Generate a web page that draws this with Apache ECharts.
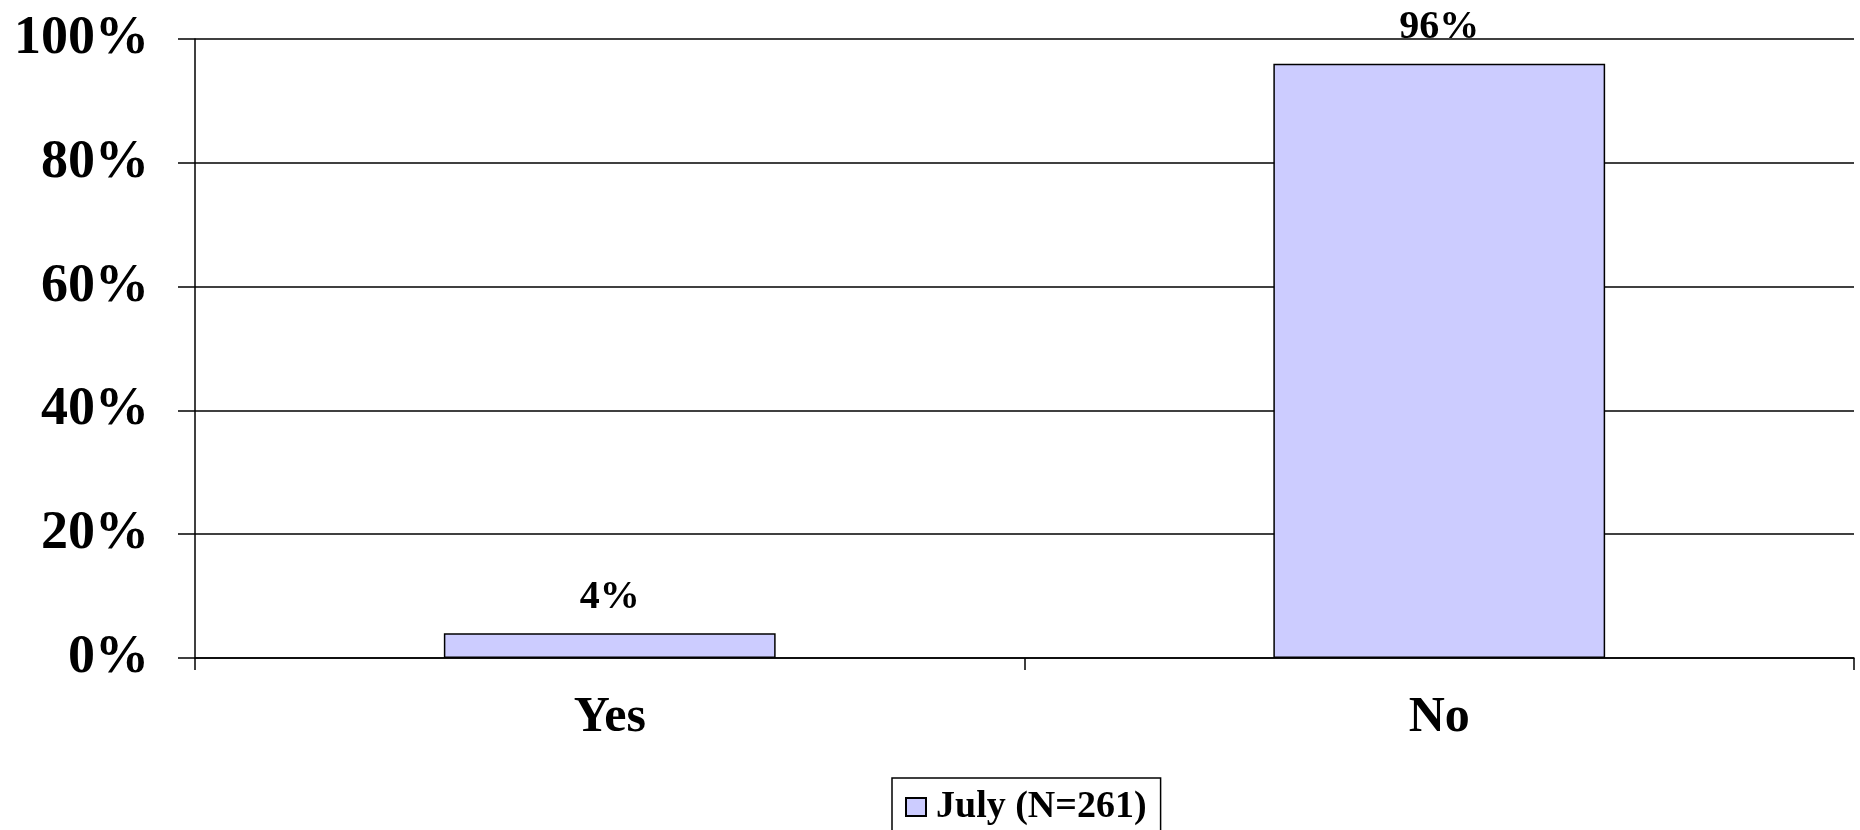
<!DOCTYPE html>
<html>
<head>
<meta charset="utf-8">
<script src="https://cdn.jsdelivr.net/npm/echarts@6/dist/echarts.min.js"></script>
<style>
html,body{margin:0;padding:0;background:#fff;}
#chart{width:1860px;height:830px;}
</style>
</head>
<body>
<div id="chart"></div>
<script>
const categories = ["Yes", "No"];
const seriesName = "July (N=261)";
const julyValues = [4, 96];
const yTicks = [0, 20, 40, 60, 80, 100];

const serif = "'Liberation Serif', 'Times New Roman', serif";
const chart = echarts.init(document.getElementById('chart'), null, {renderer: 'canvas'});
chart.setOption({
  backgroundColor: '#ffffff',
  animation: false,
  grid: {left: 195, right: 6, top: 39, bottom: 172, containLabel: false},
  legend: {
    data: [{name: seriesName, icon: 'rect'}],
    top: 778,
    left: 892,
    backgroundColor: '#ffffff',
    borderColor: '#000000',
    borderWidth: 1.5,
    padding: [10, 14, 30, 13],
    itemWidth: 20,
    itemHeight: 18,
    itemGap: 10,
    textStyle: {fontFamily: serif, fontWeight: 'bold', fontSize: 38, color: '#000', padding: [0, 0, 0, 5]}
  },
  xAxis: {
    type: 'category',
    data: categories,
    boundaryGap: true,
    axisLine: {show: true, lineStyle: {color: '#000', width: 1.5}},
    axisTick: {show: true, alignWithLabel: false, length: 12, lineStyle: {color: '#000', width: 1.5}},
    axisLabel: {fontFamily: serif, fontWeight: 'bold', fontSize: 50, color: '#000', margin: 35},
    splitLine: {show: false}
  },
  yAxis: {
    type: 'value',
    min: yTicks[0],
    max: yTicks[yTicks.length - 1],
    interval: 20,
    axisLine: {show: true, lineStyle: {color: '#000', width: 1.5}},
    axisTick: {show: true, length: 17, lineStyle: {color: '#000', width: 1.5}},
    axisLabel: {fontFamily: serif, fontWeight: 'bold', fontSize: 54, color: '#000', margin: 46, formatter: v => v + '%'},
    splitLine: {show: true, lineStyle: {color: '#000', width: 1.5}}
  },
  series: [{
    name: seriesName,
    type: 'bar',
    data: julyValues,
    barWidth: '40%',
    itemStyle: {color: '#ccccff', borderColor: '#000', borderWidth: 1.5},
    label: {
      show: true,
      position: 'top',
      distance: 16,
      fontFamily: serif,
      fontWeight: 'bold',
      fontSize: 40,
      color: '#000',
      formatter: p => p.value + '%'
    }
  }]
});
</script>
</body>
</html>
